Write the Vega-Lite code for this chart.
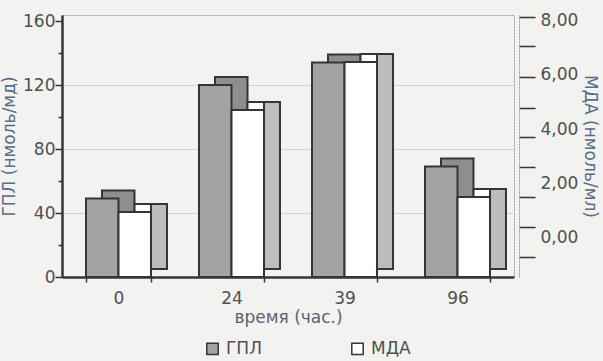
{
  "$schema": "https://vega.github.io/schema/vega-lite/v6.json",
  "width": 452,
  "height": 262,
  "autosize": {"type": "none"},
  "padding": {"left": 62, "top": 15, "right": 89, "bottom": 84},
  "background": "#f2f2f0",
  "config": {
    "view": {"stroke": "#b8b8b8", "strokeWidth": 1},
    "font": "DejaVu Sans",
    "axis": {"labelFont": "DejaVu Sans", "titleFont": "DejaVu Sans", "titleFontWeight": "normal"}
  },
  "data": {
    "values": [
      {"t": "0", "s": "ГПЛ", "v": 49},
      {"t": "24", "s": "ГПЛ", "v": 120},
      {"t": "39", "s": "ГПЛ", "v": 134},
      {"t": "96", "s": "ГПЛ", "v": 69},
      {"t": "0", "s": "МДА", "v": 0.93},
      {"t": "24", "s": "МДА", "v": 4.7},
      {"t": "39", "s": "МДА", "v": 6.48},
      {"t": "96", "s": "МДА", "v": 1.48}
    ]
  },
  "encoding": {
    "x": {
      "field": "t", "type": "nominal", "sort": ["0", "24", "39", "96"],
      "scale": {"paddingInner": 0.425, "paddingOuter": 0.2125},
      "axis": {
        "labelAngle": 0, "labelFontSize": 17, "labelColor": "#505050", "labelPadding": 8,
        "tickBand": "extent", "tickSize": 5, "tickColor": "#3b3333", "tickWidth": 1.5,
        "domainColor": "#3b3333", "domainWidth": 2.5,
        "title": "время (час.)", "titleFontSize": 17, "titleColor": "#5a6270", "titlePadding": 3
      }
    }
  },
  "layer": [
    {
      "transform": [{"filter": "datum.s == 'ГПЛ'"}],
      "encoding": {
        "y": {
          "field": "v", "type": "quantitative",
          "scale": {"domain": [0, 163.75], "nice": false},
          "axis": {
            "values": [0, 20, 40, 60, 80, 100, 120, 140, 160],
            "labelExpr": "datum.value % 40 == 0 ? datum.label : ''",
            "labelFontSize": 17, "labelColor": "#505050", "labelPadding": 0,
            "tickSize": {"condition": {"test": "datum.value % 40 == 0", "value": 7}, "value": 4},
            "tickColor": "#3b3333", "tickWidth": 1.5,
            "domainColor": "#3b3333", "domainWidth": 2.5,
            "grid": true,
            "gridColor": "#d2d2d2",
            "gridOpacity": {"condition": {"test": "datum.value % 40 == 0 && datum.value > 0 && datum.value < 160", "value": 1}, "value": 0},
            "title": "ГПЛ (нмоль/мд)", "titleFontSize": 17, "titleColor": "#5a6b85", "titlePadding": 4
          }
        }
      },
      "layer": [
        {
          "mark": {"type": "bar", "fill": "#8e8e8e", "stroke": "#3b3333", "strokeWidth": 2,
                   "width": {"band": 0.5}, "xOffset": -0.25, "yOffset": -8, "y2Offset": -8}
        },
        {
          "mark": {"type": "bar", "stroke": "#3b3333", "strokeWidth": 2,
                   "width": {"band": 0.5}, "xOffset": -16.25},
          "encoding": {
            "fill": {
              "field": "s", "type": "nominal",
              "scale": {"domain": ["ГПЛ", "МДА"], "range": ["#a3a3a3", "#ffffff"]},
              "legend": {
                "orient": "none", "legendX": 142, "legendY": 325, "direction": "horizontal",
                "title": null, "symbolType": "square", "symbolSize": 130,
                "symbolStrokeColor": "#3b3333", "symbolStrokeWidth": 1.5,
                "labelFontSize": 17, "labelColor": "#505050", "labelFont": "DejaVu Sans",
                "columnPadding": 86, "labelOffset": 5
              }
            }
          }
        }
      ]
    },
    {
      "transform": [{"filter": "datum.s == 'МДА'"}],
      "encoding": {
        "y": {
          "field": "v", "type": "quantitative",
          "scale": {"domain": [-1.481, 8.222], "nice": false, "zero": false},
          "axis": {
            "orient": "right", "offset": 5,
            "values": [8.148, 7.074, 5.926, 4.778, 3.704, 2.593, 1.481, 0.37, -0.741, 0, 2, 4, 6, 8],
            "labelExpr": "datum.value == round(datum.value) ? replace(format(datum.value, '.2f'), '.', ',') : ''",
            "labelFontSize": 17, "labelColor": "#505050", "labelPadding": 5,
            "tickSize": 16, "tickColor": "#3b3333", "tickWidth": 1.5,
            "tickOpacity": {"condition": {"test": "datum.value == round(datum.value)", "value": 0}, "value": 1},
            "domainColor": "#9a9a9a", "domainWidth": 1, "domainDash": [2, 1],
            "grid": false,
            "title": "МДА (нмоль/мл)", "titleFontSize": 17, "titleColor": "#5a6b85", "titlePadding": 3
          }
        },
        "y2": {"datum": -1.481}
      },
      "layer": [
        {
          "mark": {"type": "bar", "fill": "#ffffff", "stroke": "#3b3333", "strokeWidth": 2,
                   "width": {"band": 0.5}, "xOffset": 32.25, "yOffset": -8, "y2Offset": -8}
        },
        {
          "mark": {"type": "bar", "fill": "#bdbdbd", "stroke": "#3b3333", "strokeWidth": 2,
                   "width": {"band": 0.246}, "xOffset": 40.5, "yOffset": -8, "y2Offset": -8}
        },
        {
          "mark": {"type": "bar", "stroke": "#3b3333", "strokeWidth": 2,
                   "width": {"band": 0.5}, "xOffset": 16.25},
          "encoding": {
            "fill": {"field": "s", "type": "nominal"}
          }
        }
      ]
    }
  ],
  "resolve": {"scale": {"y": "independent"}}
}
